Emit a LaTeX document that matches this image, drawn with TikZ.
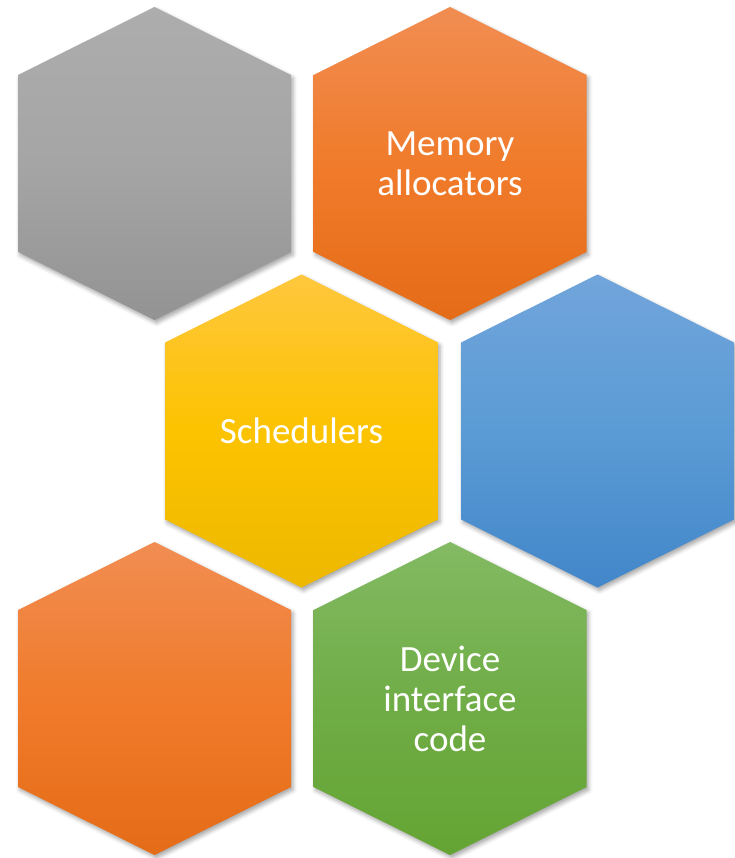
\documentclass[tikz,border=0pt]{standalone}
\usepackage{fontspec}
\setmainfont{Carlito}
\usetikzlibrary{shadows.blur}
\definecolor{hexgraytop}{HTML}{ADADAD}
\definecolor{hexgraymid}{HTML}{A5A5A5}
\definecolor{hexgraybot}{HTML}{939393}
\definecolor{hexorangetop}{HTML}{F18D52}
\definecolor{hexorangemid}{HTML}{F07B2B}
\definecolor{hexorangebot}{HTML}{E56C17}
\definecolor{hexyellowtop}{HTML}{FFC73D}
\definecolor{hexyellowmid}{HTML}{FCC300}
\definecolor{hexyellowbot}{HTML}{EDB800}
\definecolor{hexbluetop}{HTML}{71A5DB}
\definecolor{hexbluemid}{HTML}{5B9BD5}
\definecolor{hexbluebot}{HTML}{4287CA}
\definecolor{hexgreentop}{HTML}{83BA63}
\definecolor{hexgreenmid}{HTML}{70AD47}
\definecolor{hexgreenbot}{HTML}{64A433}

\tikzset{
  hexlabel/.style={text=white, align=center, font=\fontsize{37}{40}\selectfont},
  hexshadow/.style={blur shadow={shadow xshift=2pt, shadow yshift=-3pt, shadow opacity=35, shadow blur radius=4pt}},
  pics/hexcell/.style n args={4}{code={
    \path[hexshadow, top color=#1top, bottom color=#1bot, middle color=#1mid]
      (0,-156.5) -- (136.5,-88.5) -- (136.5,88.5) -- (0,156.5)
      -- (-136.5,88.5) -- (-136.5,-88.5) -- cycle;
    \node[hexlabel] (-label) at (#3,#4) {#2};
  }}
}

\begin{document}
\begin{tikzpicture}[x=1pt, y=-1pt]
				\useasboundingbox (0,0) rectangle (734,858);
				
				% Top row
				\pic (misc) at (154.5,163.5) {hexcell={hexgray}{}{0}{0}};
				\pic (alloc) at (450,163.5) {hexcell={hexorange}{Memory\\allocators}{0}{0}};
				
				% Middle row
				\pic (sched) at (301.5,431) {hexcell={hexyellow}{Schedulers}{0}{0}};
				\pic (other) at (597.5,431) {hexcell={hexblue}{}{0}{0}};
				
				% Bottom row
				\pic (extra) at (154.5,698.5) {hexcell={hexorange}{}{0}{0}};
				\pic (device) at (450,698.5) {hexcell={hexgreen}{Device\\interface\\code}{0}{0}};
			\end{tikzpicture}
\end{document}
